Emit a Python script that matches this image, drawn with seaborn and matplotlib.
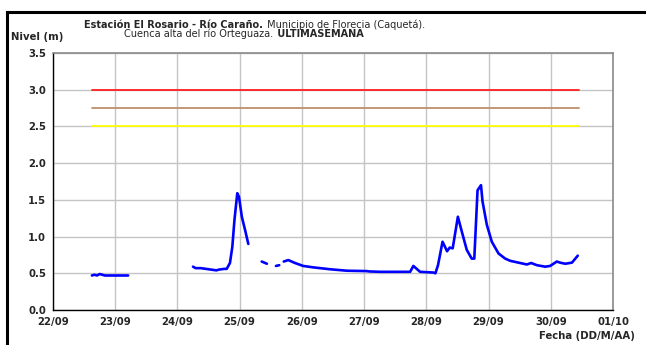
import pandas as pd
import matplotlib
matplotlib.use("Agg")
import matplotlib.pyplot as plt
import matplotlib.dates as mdates
from matplotlib.patches import Rectangle
import seaborn as sns

# tramos de lectura del nivel (los huecos son datos faltantes)
tramo1_fecha = ["2019-09-22 15:00", "2019-09-22 16:00", "2019-09-22 17:00", "2019-09-22 18:00",
                "2019-09-22 19:00", "2019-09-22 20:00", "2019-09-22 22:00", "2019-09-23 00:00",
                "2019-09-23 02:00", "2019-09-23 05:00"]
tramo1_nivel = [0.47, 0.48, 0.47, 0.49, 0.48, 0.47, 0.47, 0.47, 0.47, 0.47]

tramo2_fecha = ["2019-09-24 06:00", "2019-09-24 07:00", "2019-09-24 09:00", "2019-09-24 11:00",
                "2019-09-24 13:00", "2019-09-24 15:00", "2019-09-24 16:00", "2019-09-24 18:00",
                "2019-09-24 19:00", "2019-09-24 20:15", "2019-09-24 21:10", "2019-09-24 22:00",
                "2019-09-24 23:05", "2019-09-24 23:45", "2019-09-25 00:50", "2019-09-25 02:05",
                "2019-09-25 03:20"]
tramo2_nivel = [0.59, 0.57, 0.57, 0.56, 0.55, 0.54, 0.55, 0.56, 0.56, 0.64, 0.86, 1.23,
                1.59, 1.54, 1.27, 1.09, 0.90]

tramo3_fecha = ["2019-09-25 08:30", "2019-09-25 10:30"]
tramo3_nivel = [0.66, 0.63]

tramo4_fecha = ["2019-09-25 14:00", "2019-09-25 15:15"]
tramo4_nivel = [0.60, 0.61]

tramo5_fecha = ["2019-09-25 17:00", "2019-09-25 18:45", "2019-09-25 21:20", "2019-09-26 00:30",
                "2019-09-26 04:30", "2019-09-26 10:50", "2019-09-26 17:20", "2019-09-27 01:00",
                "2019-09-27 02:00", "2019-09-27 06:10", "2019-09-27 17:45", "2019-09-27 19:00",
                "2019-09-27 21:35", "2019-09-28 02:45", "2019-09-28 03:30", "2019-09-28 04:30",
                "2019-09-28 06:15", "2019-09-28 08:00", "2019-09-28 09:00", "2019-09-28 10:10",
                "2019-09-28 12:10", "2019-09-28 13:40", "2019-09-28 15:35", "2019-09-28 17:30",
                "2019-09-28 18:30", "2019-09-28 19:45", "2019-09-28 21:05", "2019-09-28 21:40",
                "2019-09-28 23:20", "2019-09-29 01:15", "2019-09-29 03:50", "2019-09-29 06:25",
                "2019-09-29 08:20", "2019-09-29 12:10", "2019-09-29 14:45", "2019-09-29 16:25",
                "2019-09-29 18:40", "2019-09-29 21:50", "2019-09-29 23:45", "2019-09-30 02:20",
                "2019-09-30 03:35", "2019-09-30 05:35", "2019-09-30 08:10", "2019-09-30 10:25"]
tramo5_nivel = [0.66, 0.68, 0.64, 0.60, 0.58, 0.555, 0.535, 0.53, 0.525, 0.52, 0.52, 0.60,
                0.52, 0.51, 0.50, 0.61, 0.93, 0.80, 0.85, 0.84, 1.27, 1.07, 0.82, 0.70,
                0.70, 1.63, 1.70, 1.48, 1.16, 0.93, 0.77, 0.70, 0.67, 0.64, 0.62, 0.64,
                0.61, 0.59, 0.60, 0.66, 0.645, 0.63, 0.645, 0.74]

# umbrales de alerta
umbral_valores = [3.0, 2.75, 2.5]
umbral_colores = ["#ff2020", "#c0906a", "#ffff00"]
umbral_fechas = ["2019-09-22 15:00", "2019-09-30 11:00"]

tick_dias = pd.date_range("2019-09-22", "2019-10-01", freq="D")

tramos = []
for i, (f, n) in enumerate([(tramo1_fecha, tramo1_nivel), (tramo2_fecha, tramo2_nivel),
                            (tramo3_fecha, tramo3_nivel), (tramo4_fecha, tramo4_nivel),
                            (tramo5_fecha, tramo5_nivel)]):
    tramos.append(pd.DataFrame({"fecha": pd.to_datetime(f), "nivel": n, "tramo": i}))
nivel = pd.concat(tramos, ignore_index=True)

sns.set_style("white")
plt.rcParams["font.family"] = ["DejaVu Sans"]

fig = plt.figure(figsize=(6.46, 3.45), dpi=100)
ax = fig.add_axes([53 / 646, 1 - 310 / 345, (613 - 53) / 646, (310 - 53) / 345])

for v, c in zip(umbral_valores, umbral_colores):
    sns.lineplot(x=pd.to_datetime(umbral_fechas), y=[v, v], color=c, lw=1.3, ax=ax)

sns.lineplot(data=nivel, x="fecha", y="nivel", units="tramo", estimator=None,
             color="#0000ff", lw=1.9, ax=ax)

ax.set_xlim(tick_dias[0], tick_dias[-1])
ax.set_ylim(0, 3.5)
ax.set_xticks(tick_dias)
ax.xaxis.set_major_formatter(mdates.DateFormatter("%d/%m"))
ax.set_yticks([0, 0.5, 1.0, 1.5, 2.0, 2.5, 3.0, 3.5])
ax.set_yticklabels([f"{t:.1f}" for t in ax.get_yticks()])
ax.grid(True, color="#c4c4c4", lw=1)
ax.set_axisbelow(True)
ax.set_xlabel("")
ax.set_ylabel("")
ax.tick_params(direction="out", length=3, width=1, labelsize=7.3, pad=2, color="black")
for lab in ax.get_xticklabels() + ax.get_yticklabels():
    lab.set_fontweight("bold")
for s in ["left", "bottom"]:
    ax.spines[s].set_color("black")
    ax.spines[s].set_linewidth(1)
for s in ["top", "right"]:
    ax.spines[s].set_color("#8a8a8a")
    ax.spines[s].set_linewidth(1.2)

fig.text(263 / 646, 1 - 25 / 345, "Estación El Rosario - Río Caraño.", ha="right", va="center",
         fontsize=7, fontweight="bold")
fig.text(264 / 646, 1 - 25 / 345, " Municipio de Florecia (Caquetá).", ha="left", va="center",
         fontsize=7)
fig.text(273 / 646, 1 - 34 / 345, "Cuenca alta del río Orteguaza.", ha="right", va="center",
         fontsize=7)
fig.text(274 / 646, 1 - 34 / 345, " ULTIMASEMANA", ha="left", va="center",
         fontsize=7, fontweight="bold")
fig.text(11 / 646, 1 - 37 / 345, "Nivel (m)", ha="left", va="center", fontsize=7.3, fontweight="bold")
fig.text(635 / 646, 1 - 336 / 345, "Fecha (DD/M/AA)", ha="right", va="center", fontsize=7.3,
         fontweight="bold")

fig.patches.append(Rectangle((6.5 / 646, -0.1), 1.2, 1 - 11.5 / 345 + 0.1, transform=fig.transFigure,
                             fill=False, lw=2.2, ec="black"))

fig.savefig("out.png", dpi=100)
